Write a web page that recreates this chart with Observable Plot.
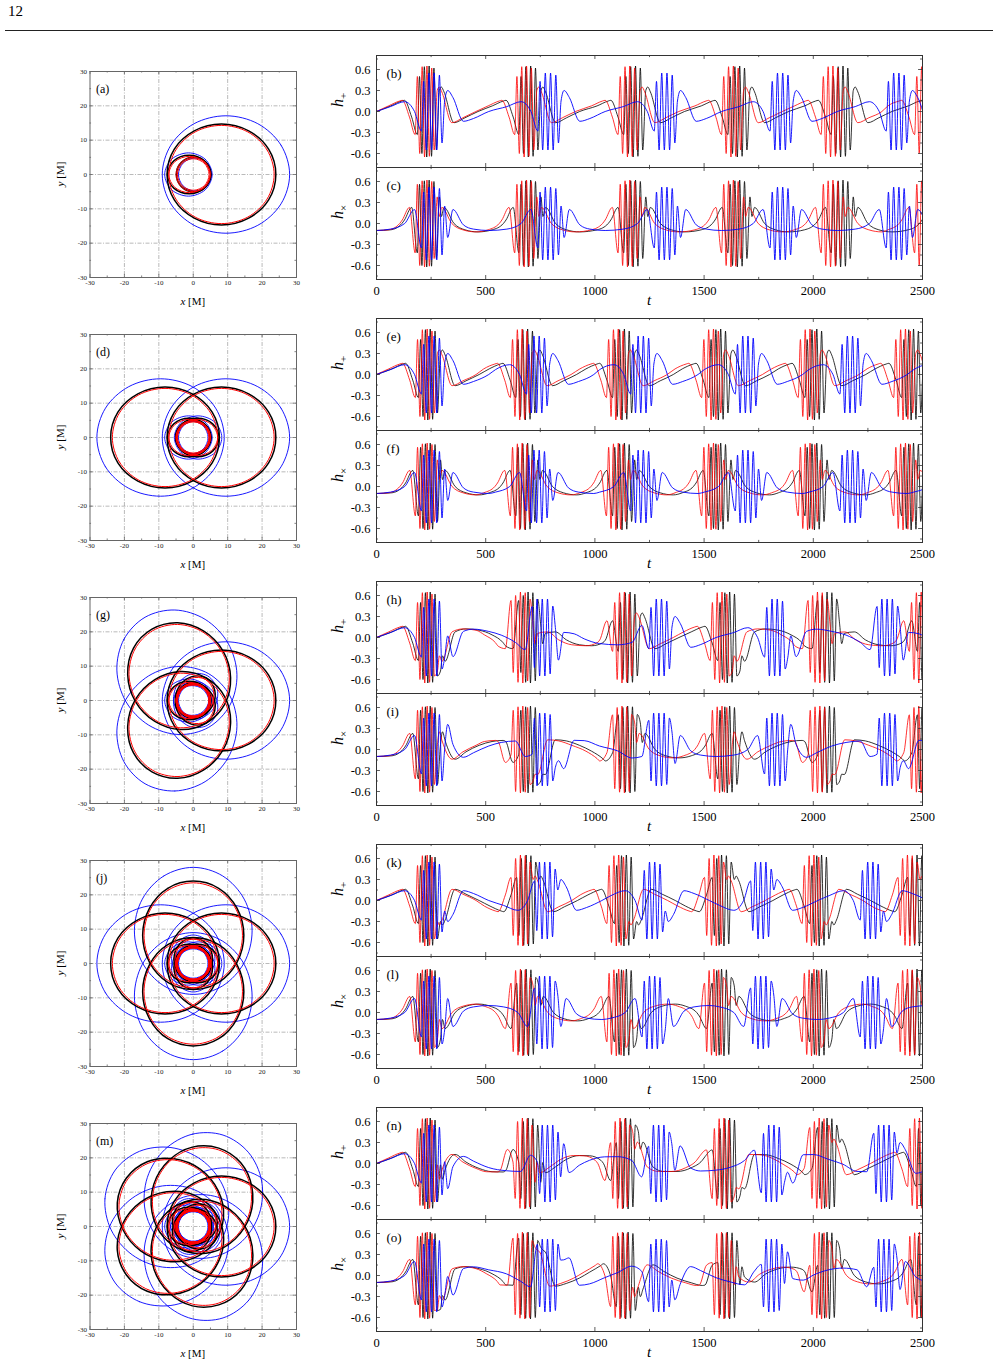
<!DOCTYPE html>
<html>
<head>
<meta charset="utf-8">
<script src="https://cdn.jsdelivr.net/npm/d3@7"></script>
<script src="https://cdn.jsdelivr.net/npm/@observablehq/plot@0.6"></script>
<style>
  body { margin: 0; background: #fff; }
  #page { position: relative; width: 999px; height: 1366px; overflow: hidden; background: #fff;
          font-family: "Liberation Serif", "DejaVu Serif", serif; }
  .abs { position: absolute; }
</style>
</head>
<body>
<div id="page"></div>
<script>
// ---------------- orbit data (units of M) ----------------
// one zoom leaf per colour, in the frame where the leaf points along +x
const leafBlack = [[24.0,0],[21.9,7.4],[16.1,12.7],[8.2,14.7],[0.3,12.7],[-5.5,7.4],[-7.6,0],[-5.5,-7.4],[0.3,-12.7],[8.2,-14.7],[16.1,-12.7],[21.9,-7.4]];
const leafRed   = [[23.5,0],[21.45,7.15],[15.85,12.4],[8.2,14.3],[0.55,12.4],[-5.05,7.15],[-7.1,0],[-5.05,-7.15],[0.55,-12.4],[8.2,-14.3],[15.85,-12.4],[21.45,-7.15]];
const leafBlue  = [[28.0,0],[25.5,8.55],[18.75,14.8],[9.5,17.1],[0.25,14.8],[-6.5,8.55],[-9.0,0],[-6.5,-8.55],[0.25,-14.8],[9.5,-17.1],[18.75,-14.8],[25.5,-8.55]];
// whirl loops near the hole
const whirlBlack = [
  [[5.1,0],[3.25,3.96],[-1.2,5.6],[-5.65,3.96],[-7.5,0],[-5.65,-3.96],[-1.2,-5.6],[3.25,-3.96]],
  [[5.1,0],[3.64,3.54],[0.1,5.0],[-3.44,3.54],[-4.9,0],[-3.44,-3.54],[0.1,-5.0],[3.64,-3.54]]
];
const whirlRed = [
  [[4.9,0],[3.14,3.75],[-1.1,5.3],[-5.34,3.75],[-7.1,0],[-5.34,-3.75],[-1.1,-5.3],[3.14,-3.75]],
  [[4.6,0],[3.25,3.25],[0,4.6],[-3.25,3.25],[-4.6,0],[-3.25,-3.25],[0,-4.6],[3.25,-3.25]],
  [[5.0,0],[3.54,3.54],[0,5.0],[-3.54,3.54],[-5.0,0],[-3.54,-3.54],[0,-5.0],[3.54,-3.54]]
];
const whirlBlue = [
  [[5.5,0],[3.48,4.45],[-1.4,6.3],[-6.28,4.45],[-8.3,0],[-6.28,-4.45],[-1.4,-6.3],[3.48,-4.45]],
  [[5.3,0],[3.89,3.39],[0.5,4.8],[-2.89,3.39],[-4.3,0],[-2.89,-3.39],[0.5,-4.8],[3.89,-3.39]]
];
// orientation of the leaves (degrees) in each orbit panel
const leafAngles = [[0], [0,180], [0,120,240], [0,90,180,270], [0,72,144,216,288]];
const orbitLetters = ["(a)", "(d)", "(g)", "(j)", "(m)"];
const orbitTicks = [-30,-20,-10,0,10,20,30];
const orbitMinor = [-25,-15,-5,5,15,25];
const orbitGrid = [-20,-10,0,10,20];

// ---------------- waveform data ----------------
// periastron passage times for each row: red, black, blue
const dipsRed   = [[175,631,1104,1578,2034,2462],[176,611,1051,1487,1929,2366],[176,614,1079,1526,1974,2438],[176,614,1053,1500,1947,2386],[176,623,1070,1535,1982,2430]];
const dipsBlack = [[185,650,1130,1607,2080,2555],[190,636,1079,1520,1960,2403],[190,649,1105,1561,2018,2475],[190,640,1088,1535,1982,2430],[190,649,1096,1561,2018,2470]];
const dipsBlue  = [[204,737,1270,1800,2332],[204,685,1162,1641,2120,2600],[204,711,1245,1775,2290],[204,722,1214,1711,2213],[204,735,1244,1760,2275]];
// polarization phase advance (deg) between successive zoom phases (orbit precession x 2)
const phaseStep = [0, 0, 240, 180, 144];

// slow part around one passage: [offset from passage, h+, hx] for a leaf along +x
const preRB   = [[-120,0.08,-0.09],[-69,0.15,0.0],[-57,0.16,0.05],[-24,-0.08,0.23],[2,-0.33,-0.42]];
const postRB  = [[103,0.3,0.38],[112,0.35,0.1],[124,0.28,0.23],[170,-0.16,0.0],[220,-0.09,-0.09],[280,0.0,-0.12]];
const preBlue  = [[-140,0.07,-0.08],[-75,0.14,0.0],[-30,0.0,0.2],[2,-0.28,-0.35]];
const postBlue = [[108,0.15,0.25],[122,0.3,-0.2],[146,0.2,0.2],[194,-0.14,-0.02],[240,-0.1,-0.08],[310,0.0,-0.1]];
// whirl bursts: [offset, value]
const corePlusRB   = [[12,0.5],[23,-0.6],[34,0.64],[45,-0.65],[56,0.65],[67,-0.64],[78,0.62],[89,-0.55]];
const coreCrossRB  = [[12,0.56],[23,-0.6],[34,0.61],[45,-0.62],[56,0.62],[67,-0.61],[78,0.6],[89,-0.5]];
const corePlusBlue = [[12,0.43],[24,-0.55],[36,0.55],[48,-0.55],[60,0.55],[72,-0.55],[84,0.52],[96,-0.45]];
const coreCrossBlue= [[12,0.45],[24,-0.52],[36,0.52],[48,-0.52],[60,0.52],[72,-0.52],[84,0.5],[96,-0.45]];
const startPlus  = [[0,0]];
const startCross = [[0,-0.1]];

const waveLetters = [["(b)","(c)"],["(e)","(f)"],["(h)","(i)"],["(k)","(l)"],["(n)","(o)"]];
const tTicks = [0,500,1000,1500,2000,2500];
const tMinor = [250,750,1250,1750,2250];
const hTicks = [-0.6,-0.3,0,0.3,0.6];
const hMinor = [-0.75,-0.45,-0.15,0.15,0.45,0.75];

// ---------------- page ----------------
const page = document.getElementById("page");
const ROW = 263;
const FONT = "'Liberation Serif', 'DejaVu Serif', serif";

function place(node, left, top) {
  node.classList.add("abs");
  node.style.left = left + "px";
  node.style.top = top + "px";
  page.appendChild(node);
}

const num = document.createElement("div");
num.textContent = "12";
num.style.fontSize = "15px";
place(num, 8, 3);
const rule = document.createElement("div");
rule.style.width = "988px"; rule.style.height = "1px"; rule.style.background = "#222";
place(rule, 5, 30);

function rotate(pts, deg) {
  const a = deg * Math.PI / 180, c = Math.cos(a), s = Math.sin(a);
  return pts.map(([x, y]) => [x * c - y * s, x * s + y * c]);
}

function orbitLoops(leaf, whirls, angles, tag) {
  const out = [];
  angles.forEach((ang, i) => {
    [leaf, ...whirls].forEach((shape, j) => {
      rotate(shape, ang).forEach(([x, y]) => out.push({x, y, loop: `${tag}-${i}-${j}`}));
    });
  });
  return out;
}

// inward tick marks drawn as short rules; len is in data units of the crossing axis
function ticksX(values, lo, hi, len, stroke) {
  return [
    Plot.ruleX(values, {x: d => d, y1: lo, y2: lo + len, stroke, strokeWidth: 0.8}),
    Plot.ruleX(values, {x: d => d, y1: hi - len, y2: hi, stroke, strokeWidth: 0.8})
  ];
}
function ticksY(values, lo, hi, len, stroke) {
  return [
    Plot.ruleY(values, {y: d => d, x1: lo, x2: lo + len, stroke, strokeWidth: 0.8}),
    Plot.ruleY(values, {y: d => d, x1: hi - len, x2: hi, stroke, strokeWidth: 0.8})
  ];
}

function orbitPlot(r) {
  const ang = leafAngles[r];
  const grid = {stroke: "#8c8c8c", strokeOpacity: 1, strokeWidth: 0.6, strokeDasharray: "4,1.5,1,1.5"};
  const svg = Plot.plot({
    width: 280, height: 261, marginLeft: 59.5, marginRight: 14, marginTop: 15, marginBottom: 40,
    style: {background: "none", overflow: "visible", fontFamily: FONT},
    x: {domain: [-30, 30], axis: null},
    y: {domain: [-30, 30], axis: null},
    marks: [
      Plot.ruleX(orbitGrid, grid),
      Plot.ruleY(orbitGrid, grid),
      Plot.line(orbitLoops(leafBlue, whirlBlue, ang, "u"), {x: "x", y: "y", z: "loop", stroke: "#0000ff", strokeWidth: 0.9, curve: "catmull-rom-closed"}),
      Plot.line(orbitLoops(leafBlack, whirlBlack, ang, "k"), {x: "x", y: "y", z: "loop", stroke: "#000", strokeWidth: 1.5, curve: "catmull-rom-closed"}),
      Plot.line(orbitLoops(leafRed, whirlRed, ang, "r"), {x: "x", y: "y", z: "loop", stroke: "#ff0000", strokeWidth: 1, curve: "catmull-rom-closed"}),
      ...ticksX(orbitTicks, -30, 30, 0.9, "#666"),
      ...ticksX(orbitMinor, -30, 30, 0.45, "#666"),
      ...ticksY(orbitTicks, -30, 30, 0.9, "#666"),
      ...ticksY(orbitMinor, -30, 30, 0.45, "#666"),
      Plot.frame({stroke: "#666", strokeWidth: 1}),
      Plot.axisX({ticks: orbitTicks, anchor: "bottom", tickSize: 0, tickPadding: 3, fontSize: 7, tickFormat: d => String(d), label: null, fill: "#222"}),
      Plot.axisY({ticks: orbitTicks, anchor: "left", tickSize: 0, tickPadding: 3, fontSize: 7, tickFormat: d => String(d), label: null, fill: "#222"}),
      Plot.text([orbitLetters[r]], {frameAnchor: "top-left", dx: 6, dy: 13, textAnchor: "start", fontSize: 12, fill: "#000"})
    ]
  });
  const s = d3.select(svg);
  const xl = s.append("text").attr("x", 59.5 + 103.25).attr("y", 15 + 206 + 28)
    .attr("text-anchor", "middle").attr("font-size", 11).attr("fill", "#000");
  xl.append("tspan").attr("font-style", "italic").text("x");
  xl.append("tspan").text(" [M]");
  const yl = s.append("text").attr("transform", `translate(34,${15 + 103}) rotate(-90)`)
    .attr("text-anchor", "middle").attr("font-size", 11).attr("fill", "#000");
  yl.append("tspan").attr("font-style", "italic").text("y");
  yl.append("tspan").text(" [M]");
  place(svg, 30, 56 + r * ROW);
}

// polarization seen after the leaf has turned: plus (which = 0) or cross (which = 1)
function polar(P, X, deg, which) {
  const b = deg * Math.PI / 180, c = Math.cos(b), s = Math.sin(b);
  return which === 0 ? P * c + X * s : -P * s + X * c;
}

function assemble(start, dips, step, pre, core, post, which) {
  const pts = start.map(([t, h]) => ({t, h}));
  dips.forEach((d, k) => {
    const bPre = k * step, bPost = (k + 1) * step;
    let last = 0;
    pre.forEach(([o, P, X]) => { last = polar(P, X, bPre, which); pts.push({t: d + o, h: last}); });
    const flip = last > 0 ? -1 : 1;
    core.forEach(([o, v]) => pts.push({t: d + o, h: flip * v}));
    post.forEach(([o, P, X]) => pts.push({t: d + o, h: polar(P, X, bPost, which)}));
  });
  return pts.sort((a, b) => a.t - b.t);
}

function wavePlot(r, bottom) {
  const w = bottom ? 1 : 0;
  const step = phaseStep[r];
  const start = bottom ? startCross : startPlus;
  const coreRB = bottom ? coreCrossRB : corePlusRB;
  const coreBlue = bottom ? coreCrossBlue : corePlusBlue;
  const black = assemble(start, dipsBlack[r], step, preRB, coreRB, postRB, w);
  const red = assemble(start, dipsRed[r], step, preRB, coreRB, postRB, w);
  const blue = assemble(start, dipsBlue[r], step, preBlue, coreBlue, postBlue, w);
  const mb = bottom ? 40 : 5;
  const marks = [
    Plot.line(black, {x: "t", y: "h", stroke: "#000", strokeWidth: 0.8, curve: "monotone-x", clip: true}),
    Plot.line(red, {x: "t", y: "h", stroke: "#ff0000", strokeWidth: 0.8, curve: "monotone-x", clip: true}),
    Plot.line(blue, {x: "t", y: "h", stroke: "#0000ff", strokeWidth: 0.9, curve: "monotone-x", clip: true}),
    ...ticksX(tTicks, -0.8, 0.8, 0.057, "#333"),
    ...ticksX(tMinor, -0.8, 0.8, 0.03, "#333"),
    ...ticksY(hTicks, 0, 2500, 18, "#333"),
    ...ticksY(hMinor, 0, 2500, 9, "#333"),
    Plot.frame({stroke: "#333", strokeWidth: 1}),
    Plot.axisY({ticks: hTicks, anchor: "left", tickSize: 0, tickPadding: 6, fontSize: 12.5, tickFormat: d => d.toFixed(1), label: null, fill: "#000"}),
    Plot.text([waveLetters[r][w]], {frameAnchor: "top-left", dx: 10, dy: 13, textAnchor: "start", fontSize: 13, fill: "#000"})
  ];
  if (bottom) marks.push(Plot.axisX({ticks: tTicks, anchor: "bottom", tickSize: 0, tickPadding: 7, fontSize: 12.5, tickFormat: d => String(d), label: null, fill: "#000"}));
  const svg = Plot.plot({
    width: 612, height: 117 + mb, marginLeft: 56, marginRight: 10, marginTop: 5, marginBottom: mb,
    style: {background: "none", overflow: "visible", fontFamily: FONT},
    x: {domain: [0, 2500], axis: null},
    y: {domain: [-0.8, 0.8], axis: null},
    marks
  });
  const s = d3.select(svg);
  const hl = s.append("text").attr("transform", `translate(23,${5 + 56 - 11}) rotate(-90)`)
    .attr("text-anchor", "middle").attr("font-size", 16).attr("fill", "#000");
  hl.append("tspan").attr("font-style", "italic").text("h");
  hl.append("tspan").attr("font-size", 11).attr("dy", 4).text(bottom ? "×" : "+");
  if (bottom) {
    s.append("text").attr("x", 56 + 273).attr("y", 5 + 112 + 26).attr("text-anchor", "middle")
      .attr("font-size", 15).attr("font-style", "italic").attr("fill", "#000").text("t");
  }
  place(svg, 320, (bottom ? 162 : 50) + r * ROW);
}

for (let r = 0; r < 5; r++) {
  orbitPlot(r);
  wavePlot(r, false);
  wavePlot(r, true);
}
</script>
</body>
</html>
